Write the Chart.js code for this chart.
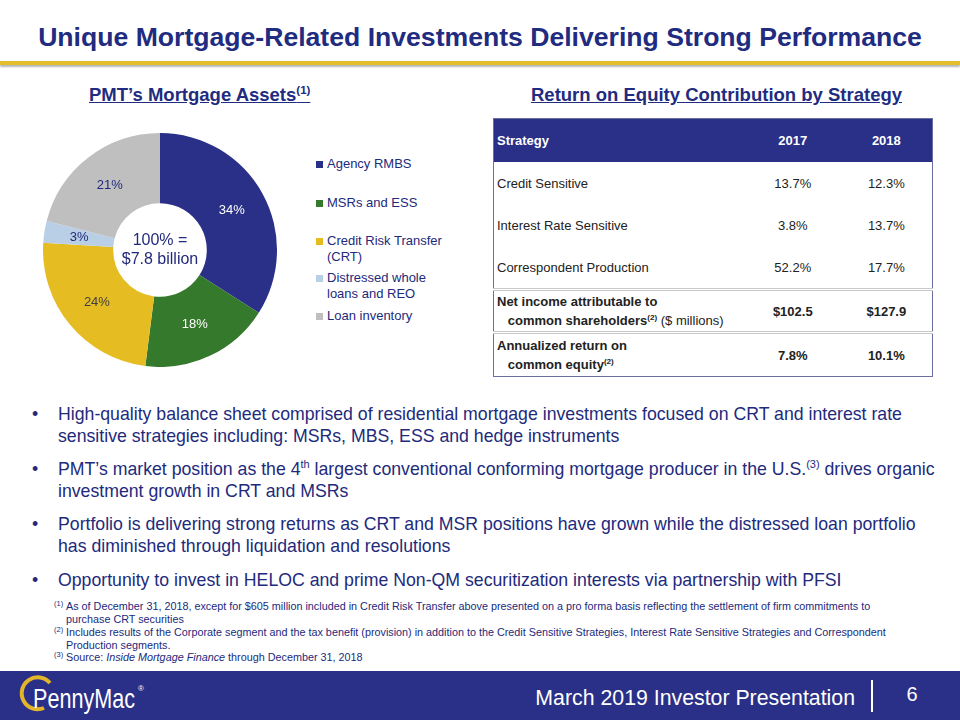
<!DOCTYPE html>
<html>
<head>
<meta charset="utf-8">
<script src="https://cdn.jsdelivr.net/npm/chart.js@4.4.0/dist/chart.umd.min.js"></script>
<style>
  body { margin:0; width:960px; height:720px; position:relative; overflow:hidden; background:#fff;
         font-family:"Liberation Sans", Arial, sans-serif; color:#222a7c; }
  .abs { position:absolute; }
  #title { left:0; width:960px; top:22px; text-align:center; font-size:26.6px; font-weight:bold; color:#212b80; }
  #goldline { left:0; top:61px; width:960px; height:4px; background:#e3bd2c; box-shadow:0 2px 2px #b8b8b8; }
  .sub { font-size:18.5px; font-weight:bold; text-decoration:underline; color:#212b80; }
  #donutBox { left:43px; top:133px; width:234px; height:234px; }
  #legend { left:316px; top:0; }
  .lg { position:absolute; left:0; font-size:13px; line-height:16px; color:#222a7c; white-space:nowrap; }
  .lg i { position:absolute; left:0; top:5px; width:7px; height:7px; }
  .lg span { position:absolute; left:11px; top:0; }
  table { border-collapse:collapse; font-size:13px; color:#222; }
  #tbl { left:493px; top:118px; }
  #tbl table { width:440px; border:1px solid #6a6f9f; }
  #tbl td { padding:0 3px; }
  #tbl tr.hd td { background:#2a3087; color:#fff; font-weight:bold; height:43px; }
  #tbl tr.r td { height:42px; }
  #tbl tr.b td { height:40px; border-top:3px double #c9c9c9; font-weight:bold; line-height:19px; }
  #tbl td.n { text-align:center; }
  .bul { left:32px; font-size:17.7px; line-height:22px; color:#222a7c; }
  .bul b { position:absolute; left:0; font-weight:normal; }
  .bul div { margin-left:26px; }
  sup { font-size:62%; line-height:0; }
  .fn { left:54px; font-size:10.8px; line-height:12.5px; color:#222a7c; }
  .fn .s { position:absolute; left:0; top:-2px; font-size:7.5px; }
  .fn div { margin-left:12px; }
  #footer { left:0; top:671px; width:960px; height:49px; background:#2a3087; }
</style>
</head>
<body>
<div id="title" class="abs">Unique Mortgage-Related Investments Delivering Strong Performance</div>
<div id="goldline" class="abs"></div>

<div class="abs sub" style="left:89px; top:84px;">PMT’s Mortgage Assets<sup>(1)</sup></div>
<div class="abs sub" style="left:531px; top:84px;">Return on Equity Contribution by Strategy</div>

<div id="donutBox" class="abs"><canvas id="donut"></canvas></div>
<div id="legend" class="abs"></div>

<div id="tbl" class="abs"></div>

<div class="abs bul" style="top:403px; width:920px;"><b>•</b><div>High-quality balance sheet comprised of residential mortgage investments focused on CRT and interest rate<br>sensitive strategies including: MSRs, MBS, ESS and hedge instruments</div></div>
<div class="abs bul" style="top:458px; width:920px;"><b>•</b><div style="white-space:nowrap">PMT’s market position as the 4<sup>th</sup> largest conventional conforming mortgage producer in the U.S.<sup>(3)</sup> drives organic<br>investment growth in CRT and MSRs</div></div>
<div class="abs bul" style="top:513px; width:920px;"><b>•</b><div>Portfolio is delivering strong returns as CRT and MSR positions have grown while the distressed loan portfolio<br>has diminished through liquidation and resolutions</div></div>
<div class="abs bul" style="top:569px; width:920px;"><b>•</b><div>Opportunity to invest in HELOC and prime Non-QM securitization interests via partnership with PFSI</div></div>

<div class="abs fn" style="top:600px; width:890px;"><span class="s">(1)</span><div style="white-space:nowrap">As of December 31, 2018, except for $605 million included in Credit Risk Transfer above presented on a pro forma basis reflecting the settlement of firm commitments to<br>purchase CRT securities</div></div>
<div class="abs fn" style="top:626px; width:890px;"><span class="s">(2)</span><div style="white-space:nowrap">Includes results of the Corporate segment and the tax benefit (provision) in addition to the Credit Sensitive Strategies, Interest Rate Sensitive Strategies and Correspondent<br>Production segments.</div></div>
<div class="abs fn" style="top:651px; width:890px;"><span class="s">(3)</span><div>Source: <i>Inside Mortgage Finance</i> through December 31, 2018</div></div>

<div id="footer" class="abs">
  <svg width="960" height="49" style="position:absolute;left:0;top:0">
    <path d="M50 12 A16 16 0 1 0 44 37" fill="none" stroke="#e3b52a" stroke-width="4"/>
    <text x="33" y="37" fill="#fff" font-size="28" font-family="Liberation Sans, Arial"><tspan textLength="102" lengthAdjust="spacingAndGlyphs">PennyMac</tspan><tspan font-size="8" dx="3" dy="-17">®</tspan></text>
    <text x="855" y="34" fill="#fff" font-size="21.3" text-anchor="end" font-family="Liberation Sans, Arial">March 2019 Investor Presentation</text>
    <rect x="871" y="9" width="2" height="32" fill="#fff"/>
    <text x="912" y="30" fill="#fff" font-size="20" text-anchor="middle" font-family="Liberation Sans, Arial">6</text>
  </svg>
</div>

<script>
// doughnut data
const assetLabels = ['Agency RMBS', 'MSRs and ESS', 'Credit Risk Transfer (CRT)', 'Distressed whole loans and REO', 'Loan inventory'];
const assetShares = [34, 18, 24, 3, 21];
const assetColors = ['#2a3087', '#35792c', '#e5bd23', '#b9cfe6', '#bfbfbf'];
const labelColors = ['#ffffff', '#ffffff', '#404040', '#222a7c', '#222a7c'];
const centerText = ['100% =', '$7.8 billion'];

// table data
const tableHead = ['Strategy', '2017', '2018'];
const strategies = ['Credit Sensitive', 'Interest Rate Sensitive', 'Correspondent Production'];
const roe2017 = ['13.7%', '3.8%', '52.2%'];
const roe2018 = ['12.3%', '13.7%', '17.7%'];
const netIncome = ['$102.5', '$127.9'];
const annualRoe = ['7.8%', '10.1%'];

// legend (html, from the arrays)
const legendLines = [['Agency RMBS'], ['MSRs and ESS'], ['Credit Risk Transfer', '(CRT)'], ['Distressed whole', 'loans and REO'], ['Loan inventory']];
const legendTops = [156, 195, 233, 270, 308];
const legend = document.getElementById('legend');
legendLines.forEach((lines, i) => {
    const d = document.createElement('div');
    d.className = 'lg';
    d.style.top = legendTops[i] + 'px';
    d.innerHTML = '<i style="background:' + assetColors[i] + '"></i><span>' + lines.join('<br>') + '</span>';
    legend.appendChild(d);
});

// table
let html = '<table><colgroup><col style="width:252px"><col style="width:96px"><col style="width:92px"></colgroup>';
html += '<tr class="hd"><td>' + tableHead[0] + '</td><td class="n">' + tableHead[1] + '</td><td class="n">' + tableHead[2] + '</td></tr>';
for (let i = 0; i < strategies.length; i++) {
    html += '<tr class="r"><td>' + strategies[i] + '</td><td class="n">' + roe2017[i] + '</td><td class="n">' + roe2018[i] + '</td></tr>';
}
html += '<tr class="b"><td>Net income attributable to<br>&nbsp;&nbsp;&nbsp;common shareholders<sup>(2)</sup> <span style="font-weight:normal">($ millions)</span></td><td class="n">' + netIncome[0] + '</td><td class="n">' + netIncome[1] + '</td></tr>';
html += '<tr class="b" style="height:44px"><td>Annualized return on<br>&nbsp;&nbsp;&nbsp;common equity<sup>(2)</sup></td><td class="n">' + annualRoe[0] + '</td><td class="n">' + annualRoe[1] + '</td></tr>';
html += '</table>';
document.getElementById('tbl').innerHTML = html;

// labels inside slices + centre text
const sliceLabels = {
    id: 'sliceLabels',
    afterDatasetsDraw(chart) {
        const ctx = chart.ctx;
        const meta = chart.getDatasetMeta(0);
        ctx.save();
        ctx.textAlign = 'center';
        ctx.textBaseline = 'middle';
        ctx.font = '13px "Liberation Sans", Arial';
        meta.data.forEach((arc, i) => {
            const p = arc.tooltipPosition();
            ctx.fillStyle = labelColors[i];
            ctx.fillText(assetShares[i] + '%', p.x, p.y);
        });
        const cx = meta.data[0].x, cy = meta.data[0].y;
        ctx.font = '16px "Liberation Sans", Arial';
        ctx.fillStyle = '#222a7c';
        ctx.fillText(centerText[0], cx, cy - 9);
        ctx.fillText(centerText[1], cx, cy + 10);
        ctx.restore();
    }
};

new Chart(document.getElementById('donut').getContext('2d'), {
    type: 'doughnut',
    data: {
        labels: assetLabels,
        datasets: [{
            data: assetShares,
            backgroundColor: assetColors,
            borderWidth: 0
        }]
    },
    options: {
        responsive: true,
        maintainAspectRatio: false,
        animation: false,
        cutout: '40%',
        layout: { padding: 0 },
        plugins: {
            legend: { display: false },
            tooltip: { enabled: false }
        }
    },
    plugins: [sliceLabels]
});
</script>
</body>
</html>
